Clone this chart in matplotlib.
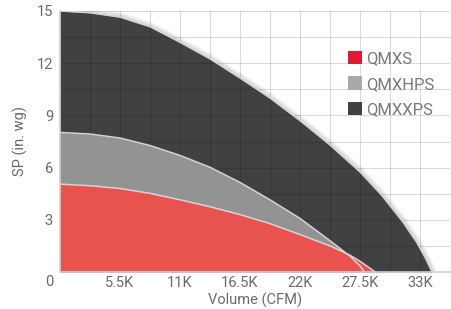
import numpy as np
import matplotlib
matplotlib.use("Agg")
from matplotlib import pyplot as plt
from matplotlib.patches import Patch
from matplotlib.transforms import ScaledTranslation

plt.rcParams["font.family"] = ["Roboto", "DejaVu Sans"]

# fan curves, volume in K CFM, static pressure in in. wg
names = ["QMXS", "QMXHPS", "QMXXPS"]
fill_colors = ["#e8534f", "#939394", "#414143"]
legend_colors = ["#e31837", "#a7a9ac", "#414042"]

qmxxps_x = [0, 2.75, 5.5, 8.25, 11, 13.75, 16.5, 19.25, 22, 24.75, 27.5, 29.5, 31.4, 32.7, 33.5, 34.1]
qmxxps_y = [15, 14.9, 14.65, 14.1, 13.2, 12.25, 11.15, 10.0, 8.7, 7.3, 5.75, 4.4, 2.9, 1.7, 0.8, 0]

qmxhps_x = [0, 2.75, 5.5, 8.25, 11, 13.75, 16.5, 19.25, 22, 24.75, 26.6, 27.5, 27.9]
qmxhps_y = [8.02, 7.93, 7.7, 7.27, 6.7, 6.02, 5.15, 4.15, 3.08, 1.8, 0.9, 0.35, 0]

qmxs_x = [0, 2.75, 5.5, 8.25, 11, 13.75, 16.5, 19.25, 22, 24.75, 26.6, 27.5, 28.4, 28.9]
qmxs_y = [5.05, 4.96, 4.8, 4.52, 4.15, 3.75, 3.3, 2.78, 2.15, 1.5, 0.96, 0.62, 0.22, 0]

x_ticks = [5.5, 11, 16.5, 22, 27.5, 33]
x_labels = ["5.5K", "11K", "16.5K", "22K", "27.5K", "33K"]
y_ticks = [0, 3, 6, 9, 12, 15]

fig = plt.figure(figsize=(4.51, 3.09), dpi=100)
ax = fig.add_axes([60 / 451, 1 - 272 / 309, 390 / 451, 261 / 309])

# soft shadow behind the biggest curve
for lw in [7, 5, 3]:
    ax.plot(qmxxps_x, qmxxps_y, color="#777777", alpha=0.09, lw=lw, zorder=1,
            solid_capstyle="butt", solid_joinstyle="round")

curves = [(qmxxps_x, qmxxps_y, fill_colors[2]),
          (qmxhps_x, qmxhps_y, fill_colors[1]),
          (qmxs_x, qmxs_y, fill_colors[0])]
for i, (xs, ys, c) in enumerate(curves):
    ax.fill_between(xs, ys, 0, color=c, lw=0, zorder=2 + i)
for xs, ys, c in curves:
    ax.plot(xs, ys, color="#d4d4d4", lw=1.1, zorder=6, solid_joinstyle="round")

ax.set_xlim(0, 35.75)
ax.set_ylim(0, 15)
ax.set_xticks(x_ticks)
ax.set_xticklabels(x_labels)
ax.set_yticks(y_ticks)
ax.set_xticks(np.arange(0, 35.8, 2.75), minor=True)
ax.set_yticks(np.arange(0, 15.1, 1.5), minor=True)
ax.grid(which="both", color="black", alpha=0.14, lw=0.8, zorder=7)
ax.set_axisbelow(False)
ax.tick_params(which="both", length=0)
ax.tick_params(axis="y", pad=5, labelsize=10.5, labelcolor="#6a6a6a")
ax.tick_params(axis="x", pad=3, labelsize=10.5, labelcolor="#6a6a6a")

lbl0 = ax.get_yticklabels()[0]
lbl0.set_transform(lbl0.get_transform() + ScaledTranslation(0, -0.08, fig.dpi_scale_trans))

for s in ["top", "right"]:
    ax.spines[s].set_visible(False)
for s in ["bottom", "left"]:
    ax.spines[s].set_color("#d0d0d0")
    ax.spines[s].set_linewidth(1.2)
    ax.spines[s].set_zorder(8)

ax.set_xlabel("Volume (CFM)", fontsize=10.5, color="#6a6a6a", labelpad=2)
ax.set_ylabel("SP (in. wg)", fontsize=10.5, color="#6a6a6a", labelpad=6)

handles = [Patch(facecolor=c, edgecolor="none") for c in legend_colors]
leg = fig.legend(handles, names, loc="upper left", bbox_to_anchor=(348 / 451, 1 - 51 / 309),
                 frameon=False, fontsize=12, handlelength=0.85, handleheight=0.85,
                 handletextpad=0.25, labelspacing=0.6, borderpad=0, borderaxespad=0)
for t in leg.get_texts():
    t.set_color("#7a7a7a")

fig.savefig("out.png", dpi=100)
